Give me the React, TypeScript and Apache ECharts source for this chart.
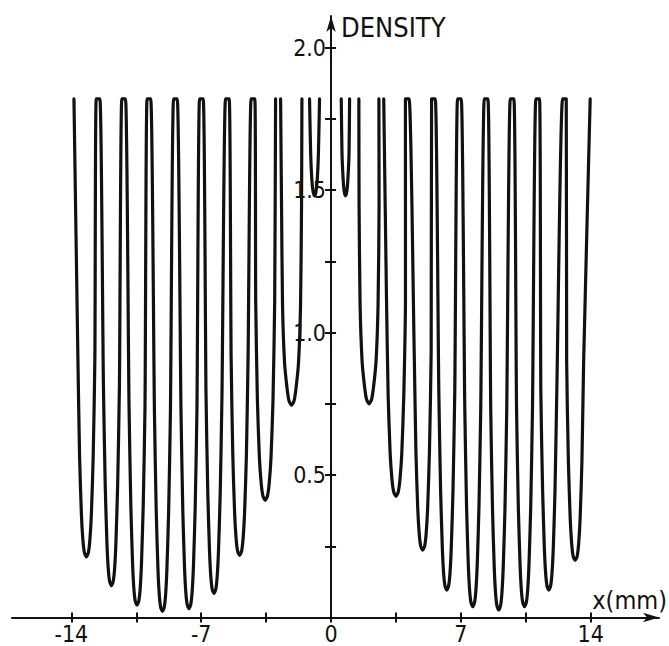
import React, { useEffect, useRef } from "react";
import * as echarts from "echarts";

// ---- data (x in mm, density) ----
const TOP = 1.82; // level where the recorder trace saturates
const LEVELS = [0.015, 0.06, 0.15, 0.35, 0.7]; // heights above each minimum where flank widths were read

const dipCenter = [-13.19, -11.84, -10.46, -9.09, -7.66, -6.31, -4.93, -3.55, -2.13, -0.89, 0.78, 2.05, 3.5, 4.94, 6.24, 7.64, 9.04, 10.43, 11.74, 13.16];
const dipMin = [0.213, 0.112, 0.043, 0.021, 0.031, 0.084, 0.218, 0.411, 0.745, 1.48, 1.48, 0.75, 0.425, 0.236, 0.096, 0.038, 0.026, 0.038, 0.096, 0.2];
const flankTopLeft = [-13.86, -12.46, -11.08, -9.72, -8.29, -6.89, -5.49, -4.11, -2.72, -1.16, 0.55, 1.5, 2.84, 4.21, 5.62, 7.02, 8.46, 9.86, 11.24, 12.68];
const flankTopRight = [-12.66, -11.28, -9.92, -8.49, -7.09, -5.69, -4.31, -2.99, -1.57, -0.62, 1.0, 2.58, 4.01, 5.42, 6.82, 8.26, 9.66, 11.04, 12.48, 13.97];
const joinedToNext = [true, true, true, true, true, true, true, false, false, false, false, false, true, true, true, true, true, true, true];
const dipHalfWidth = [
  [0.108, 0.189, 0.269, 0.366, 0.458],
  [0.097, 0.172, 0.242, 0.334, 0.431],
  [0.097, 0.172, 0.242, 0.334, 0.431],
  [0.097, 0.172, 0.242, 0.334, 0.431],
  [0.097, 0.172, 0.242, 0.334, 0.431],
  [0.097, 0.172, 0.242, 0.334, 0.431],
  [0.108, 0.189, 0.269, 0.366, 0.458],
  [0.119, 0.216, 0.313, 0.42, 0.512],
  [0.135, 0.242, 0.377, 0.485, 0.539],
  [0.08, 0.15, 0.21],
  [0.07, 0.13, 0.19],
  [0.135, 0.242, 0.377, 0.485, 0.539],
  [0.119, 0.216, 0.313, 0.42, 0.512],
  [0.108, 0.189, 0.269, 0.366, 0.458],
  [0.097, 0.172, 0.242, 0.334, 0.431],
  [0.097, 0.172, 0.242, 0.334, 0.431],
  [0.097, 0.172, 0.242, 0.334, 0.431],
  [0.097, 0.172, 0.242, 0.334, 0.431],
  [0.097, 0.172, 0.242, 0.334, 0.431],
  [0.108, 0.189, 0.269, 0.366, 0.458],
];

const xTicks = [-14, -10.5, -7, -3.5, 0, 3.5, 7, 10.5, 14];
const xLabels = [-14, -7, 0, 7, 14];
const yTicks = [0.25, 0.5, 0.75, 1, 1.25, 1.5, 1.75, 2];
const yLabels = [0.5, 1, 1.5, 2];

function buildTrace(): (number | string)[][] {
  const pts: (number | string)[][] = [];
  for (let i = 0; i < dipCenter.length; i++) {
    const c = dipCenter[i];
    const m = dipMin[i];
    const hw = dipHalfWidth[i];
    const usable: number[] = [];
    for (let k = 0; k < hw.length; k++) {
      if (m + LEVELS[k] < TOP - 0.05) usable.push(k);
    }
    pts.push([flankTopLeft[i], TOP]);
    for (let j = usable.length - 1; j >= 0; j--) {
      const k = usable[j];
      pts.push([c - hw[k], m + LEVELS[k]]);
    }
    pts.push([c, m]);
    for (let j = 0; j < usable.length; j++) {
      const k = usable[j];
      pts.push([c + hw[k], m + LEVELS[k]]);
    }
    pts.push([flankTopRight[i], TOP]);
    if (i < dipCenter.length - 1 && !joinedToNext[i]) pts.push(["-", "-"]);
  }
  return pts;
}

const FONT = "'DejaVu Sans Condensed', 'Liberation Sans Narrow', 'DejaVu Sans', sans-serif";
const INK = "#111";

export default function App() {
  const ref = useRef<HTMLDivElement>(null);
  useEffect(() => {
    if (!ref.current) return;
    const chart = echarts.init(ref.current, undefined, { renderer: "svg" });
    const xMin = -17.2;
    const xMax = 17.68;
    const yMax = 2.111;
    const W = 669;
    const gridLeft = 12;
    const gridRight = 10;
    const gridWidth = W - gridLeft - gridRight;
    // place the density axis at x = 0 of the x scale
    const yOffset = -((0 - xMin) / (xMax - xMin)) * gridWidth;
    chart.setOption({
      animation: false,
      backgroundColor: "#ffffff",
      grid: { left: gridLeft, right: gridRight, top: 16, bottom: 28.5, containLabel: false, outerBoundsMode: "none" },
      xAxis: [
        {
          type: "value",
          min: xMin,
          max: xMax,
          position: "bottom",
          name: "x(mm)",
          nameLocation: "end",
          nameGap: 8,
          nameTextStyle: { color: INK, fontFamily: FONT, fontSize: 25, align: "right", verticalAlign: "bottom", padding: [0, 0, 5, 0] },
          axisLine: { show: true, onZero: false, symbol: ["none", "arrow"], symbolSize: [7, 16], lineStyle: { color: INK, width: 2 } },
          axisTick: { show: true, customValues: xTicks, length: 5, lineStyle: { color: INK, width: 2 } },
          axisLabel: {
            show: true,
            customValues: xLabels,
            margin: 5,
            color: INK,
            fontFamily: FONT,
            fontSize: 23,
            lineHeight: 23,
            formatter: (v: number) => String(v),
          },
          splitLine: { show: false },
        },
        {
          type: "value",
          min: xMin,
          max: xMax,
          position: "bottom",
          axisLine: { show: false, onZero: false },
          axisTick: { show: true, inside: true, customValues: xTicks, length: 5, lineStyle: { color: INK, width: 2 } },
          axisLabel: { show: false },
          splitLine: { show: false },
        },
      ],
      yAxis: [
        {
          type: "value",
          min: 0,
          max: yMax,
          position: "left",
          offset: yOffset,
          name: "DENSITY",
          nameLocation: "end",
          nameGap: 2,
          nameTextStyle: { color: INK, fontFamily: FONT, fontSize: 27, align: "left", verticalAlign: "top", padding: [0, 0, 0, 10] },
          axisLine: { show: true, onZero: false, symbol: ["none", "arrow"], symbolSize: [7, 16], lineStyle: { color: INK, width: 2 } },
          axisTick: { show: true, customValues: yTicks, length: 6, lineStyle: { color: INK, width: 2 } },
          axisLabel: {
            show: true,
            customValues: yLabels,
            margin: 5,
            color: INK,
            fontFamily: FONT,
            fontSize: 23,
            formatter: (v: number) => v.toFixed(1),
          },
          splitLine: { show: false },
        },
        {
          type: "value",
          min: 0,
          max: yMax,
          position: "left",
          offset: yOffset,
          axisLine: { show: false, onZero: false },
          axisTick: { show: true, inside: true, customValues: yTicks, length: 5, lineStyle: { color: INK, width: 2 } },
          axisLabel: { show: false },
          splitLine: { show: false },
        },
      ],
      series: [
        {
          type: "line",
          xAxisIndex: 0,
          yAxisIndex: 0,
          data: buildTrace(),
          showSymbol: false,
          symbol: "none",
          smooth: 0.2,
          connectNulls: false,
          lineStyle: { color: INK, width: 3.2, cap: "round", join: "round" },
          silent: true,
        },
      ],
    });
    return () => chart.dispose();
  }, []);
  return (
    <div
      ref={ref}
      style={{ position: "fixed", left: 0, top: 0, width: 669, height: 646, background: "#fff" }}
    />
  );
}
